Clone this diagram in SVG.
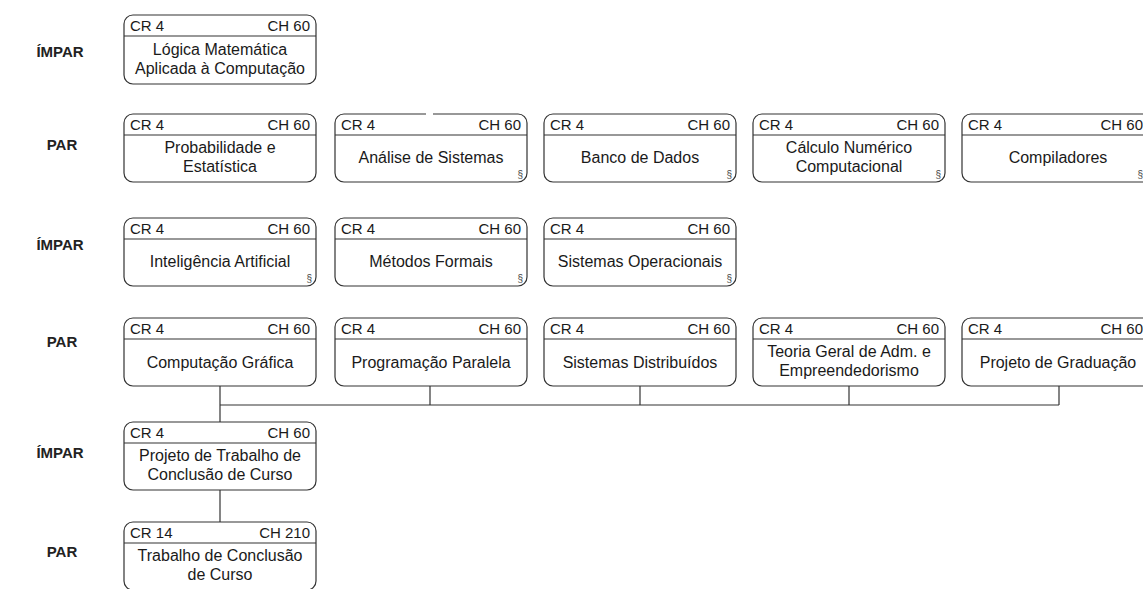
<svg xmlns="http://www.w3.org/2000/svg" width="1143" height="589" viewBox="0 0 1143 589">
<style>
.box{fill:#fff;stroke:#333;stroke-width:1.2}
.div{stroke:#333;stroke-width:1.2}
.t{font-family:"Liberation Sans",Arial,sans-serif;font-size:16px;fill:#1a1a1a}
.h{font-family:"Liberation Sans",Arial,sans-serif;font-size:15px;fill:#1a1a1a}
.s{font-family:"Liberation Sans",Arial,sans-serif;font-size:10px;fill:#444}
.lbl{font-family:"Liberation Sans",Arial,sans-serif;font-size:15px;font-weight:bold;fill:#222;text-anchor:middle}
.c{text-anchor:middle}
.e{text-anchor:end}
.conn{fill:none;stroke:#333;stroke-width:1.2}
</style>
<rect width="1143" height="589" fill="#fff"/>
<g id="labels">
<text class="lbl" x="60" y="57">ÍMPAR</text>
<text class="lbl" x="62" y="150">PAR</text>
<text class="lbl" x="60" y="250">ÍMPAR</text>
<text class="lbl" x="62" y="347">PAR</text>
<text class="lbl" x="60" y="458">ÍMPAR</text>
<text class="lbl" x="62" y="557">PAR</text>
</g>
<g id="connectors">
<path class="conn" d="M220 386V422"/>
<path class="conn" d="M220 405H1059"/>
<path class="conn" d="M430 386V405"/>
<path class="conn" d="M640 386V405"/>
<path class="conn" d="M849 386V405"/>
<path class="conn" d="M1059 386V405"/>
<path class="conn" d="M220 490V522"/>
</g>
<g id="n1" transform="translate(124,15)">
<rect class="box" x="0" y="0" width="192" height="69" rx="9"/>
<line class="div" x1="0" y1="21" x2="192" y2="21"/>
<text class="h" x="6" y="16">CR 4</text><text class="h e" x="186" y="16">CH 60</text>
<text class="t c" x="96" y="40">Lógica Matemática</text>
<text class="t c" x="96" y="59">Aplicada à Computação</text>
</g>
<g id="n2" transform="translate(124,114)">
<rect class="box" x="0" y="0" width="192" height="68" rx="9"/>
<line class="div" x1="0" y1="21" x2="192" y2="21"/>
<text class="h" x="6" y="16">CR 4</text><text class="h e" x="186" y="16">CH 60</text>
<text class="t c" x="96" y="39">Probabilidade e</text>
<text class="t c" x="96" y="58">Estatística</text>
</g>
<g id="n3" transform="translate(335,114)">
<rect class="box" x="0" y="0" width="192" height="68" rx="9"/>
<rect x="91" y="-2" width="7" height="4" fill="#fff"/>
<line class="div" x1="0" y1="21" x2="192" y2="21"/>
<text class="h" x="6" y="16">CR 4</text><text class="h e" x="186" y="16">CH 60</text>
<text class="t c" x="96" y="49">Análise de Sistemas</text>
<text class="s e" x="188" y="64">§</text>
</g>
<g id="n4" transform="translate(544,114)">
<rect class="box" x="0" y="0" width="192" height="68" rx="9"/>
<line class="div" x1="0" y1="21" x2="192" y2="21"/>
<text class="h" x="6" y="16">CR 4</text><text class="h e" x="186" y="16">CH 60</text>
<text class="t c" x="96" y="49">Banco de Dados</text>
<text class="s e" x="188" y="64">§</text>
</g>
<g id="n5" transform="translate(753,114)">
<rect class="box" x="0" y="0" width="192" height="68" rx="9"/>
<line class="div" x1="0" y1="21" x2="192" y2="21"/>
<text class="h" x="6" y="16">CR 4</text><text class="h e" x="186" y="16">CH 60</text>
<text class="t c" x="96" y="39">Cálculo Numérico</text>
<text class="t c" x="96" y="58">Computacional</text>
<text class="s e" x="188" y="64">§</text>
</g>
<g id="n6" transform="translate(962,114)">
<rect class="box" x="0" y="0" width="192" height="68" rx="9"/>
<line class="div" x1="0" y1="21" x2="192" y2="21"/>
<text class="h" x="6" y="16">CR 4</text><text class="h e" x="181" y="16">CH 60</text>
<text class="t c" x="96" y="49">Compiladores</text>
<text class="s e" x="181" y="64">§</text>
</g>
<g id="n7" transform="translate(124,218)">
<rect class="box" x="0" y="0" width="192" height="68" rx="9"/>
<line class="div" x1="0" y1="21" x2="192" y2="21"/>
<text class="h" x="6" y="16">CR 4</text><text class="h e" x="186" y="16">CH 60</text>
<text class="t c" x="96" y="49">Inteligência Artificial</text>
<text class="s e" x="188" y="64">§</text>
</g>
<g id="n8" transform="translate(335,218)">
<rect class="box" x="0" y="0" width="192" height="68" rx="9"/>
<line class="div" x1="0" y1="21" x2="192" y2="21"/>
<text class="h" x="6" y="16">CR 4</text><text class="h e" x="186" y="16">CH 60</text>
<text class="t c" x="96" y="49">Métodos Formais</text>
<text class="s e" x="188" y="64">§</text>
</g>
<g id="n9" transform="translate(544,218)">
<rect class="box" x="0" y="0" width="192" height="68" rx="9"/>
<line class="div" x1="0" y1="21" x2="192" y2="21"/>
<text class="h" x="6" y="16">CR 4</text><text class="h e" x="186" y="16">CH 60</text>
<text class="t c" x="96" y="49">Sistemas Operacionais</text>
<text class="s e" x="188" y="64">§</text>
</g>
<g id="n10" transform="translate(124,318)">
<rect class="box" x="0" y="0" width="192" height="68" rx="9"/>
<line class="div" x1="0" y1="21" x2="192" y2="21"/>
<text class="h" x="6" y="16">CR 4</text><text class="h e" x="186" y="16">CH 60</text>
<text class="t c" x="96" y="50">Computação Gráfica</text>
</g>
<g id="n11" transform="translate(335,318)">
<rect class="box" x="0" y="0" width="192" height="68" rx="9"/>
<line class="div" x1="0" y1="21" x2="192" y2="21"/>
<text class="h" x="6" y="16">CR 4</text><text class="h e" x="186" y="16">CH 60</text>
<text class="t c" x="96" y="50">Programação Paralela</text>
</g>
<g id="n12" transform="translate(544,318)">
<rect class="box" x="0" y="0" width="192" height="68" rx="9"/>
<line class="div" x1="0" y1="21" x2="192" y2="21"/>
<text class="h" x="6" y="16">CR 4</text><text class="h e" x="186" y="16">CH 60</text>
<text class="t c" x="96" y="50">Sistemas Distribuídos</text>
</g>
<g id="n13" transform="translate(753,318)">
<rect class="box" x="0" y="0" width="192" height="68" rx="9"/>
<line class="div" x1="0" y1="21" x2="192" y2="21"/>
<text class="h" x="6" y="16">CR 4</text><text class="h e" x="186" y="16">CH 60</text>
<text class="t c" x="96" y="39">Teoria Geral de Adm. e</text>
<text class="t c" x="96" y="58">Empreendedorismo</text>
</g>
<g id="n14" transform="translate(962,318)">
<rect class="box" x="0" y="0" width="192" height="68" rx="9"/>
<line class="div" x1="0" y1="21" x2="192" y2="21"/>
<text class="h" x="6" y="16">CR 4</text><text class="h e" x="181" y="16">CH 60</text>
<text class="t c" x="96" y="50">Projeto de Graduação</text>
</g>
<g id="n15" transform="translate(124,422)">
<rect class="box" x="0" y="0" width="192" height="68" rx="9"/>
<line class="div" x1="0" y1="21" x2="192" y2="21"/>
<text class="h" x="6" y="16">CR 4</text><text class="h e" x="186" y="16">CH 60</text>
<text class="t c" x="96" y="39">Projeto de Trabalho de</text>
<text class="t c" x="96" y="58">Conclusão de Curso</text>
</g>
<g id="n16" transform="translate(124,522)">
<rect class="box" x="0" y="0" width="192" height="68" rx="9"/>
<line class="div" x1="0" y1="21" x2="192" y2="21"/>
<text class="h" x="6" y="16">CR 14</text><text class="h e" x="186" y="16">CH 210</text>
<text class="t c" x="96" y="39">Trabalho de Conclusão</text>
<text class="t c" x="96" y="58">de Curso</text>
</g>
</svg>
